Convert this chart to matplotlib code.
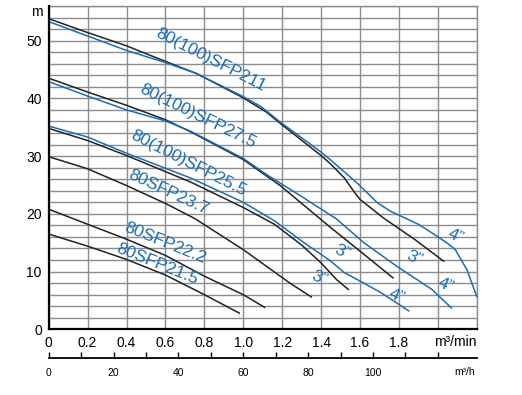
import matplotlib
matplotlib.use("Agg")
import matplotlib.pyplot as plt
import numpy as np

plt.rcParams['font.family'] = ['Liberation Sans', 'DejaVu Sans']

# ---- data (flow in m3/min, head in m) ----
q_211_3 = [0, 0.2, 0.4, 0.6, 0.76, 1.0, 1.12, 1.2, 1.4, 1.45, 1.52, 1.57, 1.6, 1.72, 1.88, 2.03]
h_211_3 = [53.8, 51.4, 49.1, 46.4, 44.3, 40.1, 37.6, 35.4, 30.1, 28.6, 26.2, 23.8, 22.5, 19.3, 15.6, 11.8]
q_211_4 = [0, 0.2, 0.4, 0.6, 0.76, 1.0, 1.09, 1.19, 1.4, 1.45, 1.59, 1.69, 1.76, 1.83, 1.9, 1.97, 2.05, 2.09, 2.15, 2.2]
h_211_4 = [53.3, 50.8, 48.3, 46.2, 44.3, 40.3, 38.6, 35.9, 30.7, 29.3, 25.2, 21.9, 20.4, 19.3, 18.2, 16.7, 14.9, 13.8, 10.3, 5.7]

q_275_3 = [0, 0.2, 0.4, 0.6, 0.73, 1.0, 1.19, 1.45, 1.62, 1.77]
h_275_3 = [43.5, 41.1, 38.8, 36.3, 34.2, 29.4, 24.9, 17.6, 13.0, 8.9]
q_275_4 = [0, 0.2, 0.4, 0.6, 0.73, 1.0, 1.12, 1.3, 1.48, 1.62, 1.79, 1.97, 2.07]
h_275_4 = [42.9, 40.4, 38.0, 36.1, 34.3, 29.6, 26.8, 23.0, 19.1, 15.0, 10.9, 6.9, 3.7]

q_255_3 = [0, 0.2, 0.4, 0.73, 1.0, 1.16, 1.3, 1.4, 1.48, 1.54]
h_255_3 = [34.8, 32.7, 30.1, 25.5, 21.1, 18.2, 14.6, 11.5, 8.6, 6.9]
q_255_4 = [0, 0.2, 0.4, 0.73, 1.0, 1.16, 1.3, 1.45, 1.52, 1.62, 1.71, 1.85]
h_255_4 = [35.2, 33.3, 30.5, 26.2, 22.0, 18.8, 15.3, 11.8, 9.8, 8.0, 6.3, 3.2]

q_237 = [0, 0.2, 0.4, 0.6, 0.75, 1.0, 1.24, 1.35]
h_237 = [29.9, 27.8, 24.9, 21.8, 19.2, 13.8, 8.0, 5.6]
q_222 = [0, 0.2, 0.4, 0.6, 0.8, 1.0, 1.11]
h_222 = [20.8, 18.2, 15.6, 12.8, 9.2, 6.0, 3.8]
q_215 = [0, 0.2, 0.4, 0.6, 0.8, 0.98]
h_215 = [16.5, 14.4, 12.1, 9.4, 6.0, 2.8]

model_labels = ["80(100)SFP211", "80(100)SFP27.5", "80(100)SFP25.5", "80SFP23.7", "80SFP22.2", "80SFP21.5"]
model_label_x = [0.835, 0.765, 0.72, 0.615, 0.60, 0.56]
model_label_y = [46.6, 36.9, 28.7, 23.7, 15.0, 11.3]
model_label_rot = [-27, -26, -27, -25, -22, -22]

size_labels = ['3"', '4"', '3"', '4"', '3"', '4"']
size_label_x = [1.39, 1.79, 1.51, 2.04, 1.88, 2.09]
size_label_y = [8.9, 5.7, 13.3, 7.7, 12.4, 16.1]

x_ticks = [0, 0.2, 0.4, 0.6, 0.8, 1.0, 1.2, 1.4, 1.6, 1.8, 2.0, 2.2]
x_tick_labels = ['0', '0.2', '0.4', '0.6', '0.8', '1.0', '1.2', '1.4', '1.6', '1.8', '', '']
y_ticks = [0, 10, 20, 30, 40, 50]
h_ticks = list(range(0, 130, 10))
h_tick_labels = ['0', '', '20', '', '40', '', '60', '', '80', '', '100', '', '']

BLUE = '#1a6db5'
BLACK = '#222222'
GRID = '#8c8c8c'

fig = plt.figure(figsize=(5.22, 3.95), dpi=100)
ax = fig.add_axes([48.7 / 522, 1 - 329.3 / 395, (476.7 - 48.7) / 522, (329.3 - 6) / 395])
ax.set_xlim(0, 2.2)
ax.set_ylim(0, 56)

ax.set_xticks(x_ticks)
ax.set_xticklabels(x_tick_labels)
ax.set_yticks(y_ticks)
ax.set_yticks(np.arange(0, 57, 2), minor=True)
ax.grid(True, which='both', color=GRID, lw=1.0)
ax.set_axisbelow(True)
ax.tick_params(which='both', length=0, labelsize=10, pad=5)
for s in ['top', 'right']:
    ax.spines[s].set_color(GRID)
    ax.spines[s].set_linewidth(1.0)
for s in ['left', 'bottom']:
    ax.spines[s].set_color('black')
    ax.spines[s].set_linewidth(1.6)
    ax.spines[s].set_zorder(5)

lw = 1.1
curves = [
    (q_211_3, h_211_3, BLACK), (q_211_4, h_211_4, BLUE),
    (q_275_3, h_275_3, BLACK), (q_275_4, h_275_4, BLUE),
    (q_255_3, h_255_3, BLACK), (q_255_4, h_255_4, BLUE),
    (q_237, h_237, BLACK), (q_222, h_222, BLACK), (q_215, h_215, BLACK),
]
for q, h, c in curves:
    ax.plot(q, h, color=c, lw=lw, solid_joinstyle='round', clip_on=False, zorder=3)

for t, x, y, r in zip(model_labels, model_label_x, model_label_y, model_label_rot):
    ax.text(x, y, t, color=BLUE, fontsize=12.5, rotation=r, ha='center', va='center',
            rotation_mode='anchor', zorder=4)
for t, x, y in zip(size_labels, size_label_x, size_label_y):
    ax.text(x, y, t.replace('"', '\u201d'), color=BLUE, fontsize=12.5, rotation=-25,
            ha='center', va='center', rotation_mode='anchor', zorder=4)

fig.text(37 / 522, 1 - 12 / 395, 'm', fontsize=10, ha='center', va='center')
fig.text(476.7 / 522, 1 - 342 / 395, 'm\u00b3/min', fontsize=10, ha='right', va='center')

sec = ax.secondary_xaxis(-(358 - 329.3) / 323.3, functions=(lambda q: q * 60, lambda h: h / 60))
sec.set_xticks(h_ticks)
sec.set_xticklabels(h_tick_labels)
sec.tick_params(direction='in', length=4.5, width=1.0, labelsize=7.5, pad=7)
sec.spines['bottom'].set_linewidth(1.3)
fig.text(465 / 522, 1 - 372 / 395, 'm\u00b3/h', fontsize=7.5, ha='center', va='center')

fig.savefig('out.png', dpi=100)
